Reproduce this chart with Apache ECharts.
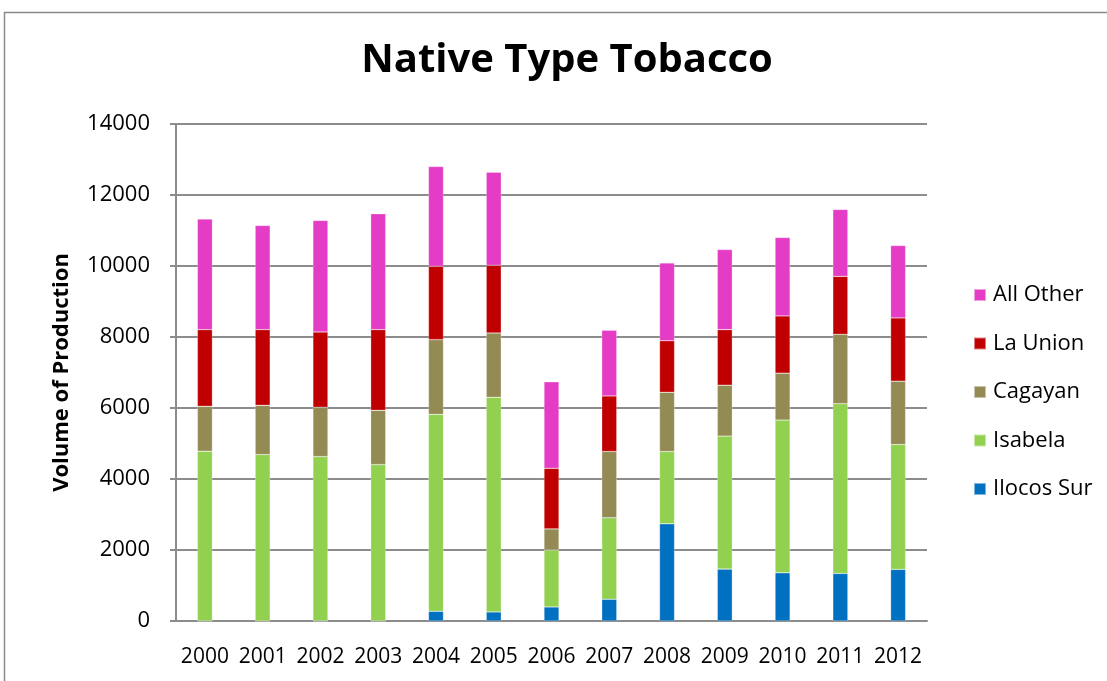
<!DOCTYPE html>
<html>
<head>
<meta charset="utf-8">
<script src="https://cdn.jsdelivr.net/npm/echarts@6/dist/echarts.min.js"></script>
<style>
  html, body { margin: 0; padding: 0; background: #fff; }
  #chart { width: 1107px; height: 681px; }
</style>
</head>
<body>
<div id="chart"></div>
<script>
// Native type tobacco production by province, 2000-2012
const years = ['2000', '2001', '2002', '2003', '2004', '2005', '2006', '2007', '2008', '2009', '2010', '2011', '2012'];
const ilocosSur = [0, 0, 0, 0, 274, 255, 396, 613, 2736, 1462, 1358, 1340, 1453];
const isabela   = [4783, 4689, 4632, 4406, 5547, 6047, 1604, 2293, 2038, 3746, 4302, 4783, 3519];
const cagayan   = [1264, 1386, 1387, 1528, 2104, 1811, 594, 1868, 1669, 1434, 1321, 1952, 1783];
const laUnion   = [2161, 2133, 2123, 2274, 2066, 1906, 1708, 1566, 1453, 1566, 1613, 1633, 1783];
const allOther  = [3113, 2934, 3141, 3264, 2811, 2623, 2434, 1849, 2189, 2254, 2208, 1886, 2037];

const seriesDefs = [
  { name: 'Ilocos Sur', data: ilocosSur, color: '#0070C0' },
  { name: 'Isabela',    data: isabela,   color: '#92D050' },
  { name: 'Cagayan',    data: cagayan,   color: '#948A54' },
  { name: 'La Union',   data: laUnion,   color: '#C00000' },
  { name: 'All Other',  data: allOther,  color: '#E43CC4' }
];

const font = '"Open Sans", "Noto Sans", sans-serif';
const chart = echarts.init(document.getElementById('chart'), null, { renderer: 'canvas' });

chart.setOption({
  animation: false,
  backgroundColor: '#fff',
  graphic: [{
    type: 'rect',
    shape: { x: 4.5, y: 12.5, width: 1110, height: 700 },
    style: { fill: 'none', stroke: '#8a8a8a', lineWidth: 1.5 },
    silent: true
  }],
  title: {
    text: 'Native Type Tobacco',
    left: 562, top: 36, textAlign: 'center',
    textStyle: { fontFamily: font, fontWeight: 'bold', fontSize: 40, color: '#000' }
  },
  legend: {
    orient: 'vertical',
    left: 968, top: 279,
    itemWidth: 12, itemHeight: 12, itemGap: 26.5,
    icon: 'rect',
    data: ['All Other', 'La Union', 'Cagayan', 'Isabela', 'Ilocos Sur'],
    textStyle: { fontFamily: font, fontSize: 22, lineHeight: 22, color: '#000', padding: [0, 0, 0, 2] }
  },
  grid: { left: 176, right: 180, top: 124, bottom: 60, containLabel: false },
  xAxis: {
    type: 'category',
    data: years,
    axisLine: { lineStyle: { color: '#8c8c8c', width: 2 } },
    axisTick: { show: false },
    axisLabel: { interval: 0, hideOverlap: false, fontFamily: font, fontSize: 21, color: '#000', margin: 26 }
  },
  yAxis: {
    type: 'value',
    min: 0, max: 14000, interval: 2000,
    name: 'Volume of Production',
    nameLocation: 'middle',
    nameGap: 103,
    nameTextStyle: { fontFamily: font, fontWeight: 'bold', fontSize: 22, color: '#000' },
    axisLine: { show: true, lineStyle: { color: '#8c8c8c', width: 2 } },
    axisTick: { show: true, length: 6, lineStyle: { color: '#8c8c8c', width: 2 } },
    splitLine: { lineStyle: { color: '#8c8c8c', width: 2 } },
    axisLabel: { fontFamily: font, fontSize: 22, color: '#000', margin: 26, formatter: v => String(v) }
  },
  series: seriesDefs.map(s => ({
    name: s.name,
    type: 'bar',
    stack: 'total',
    barWidth: 15,
    data: s.data,
    itemStyle: { color: s.color, borderColor: 'rgba(255,255,255,0.5)', borderWidth: 0.5 }
  }))
});
</script>
</body>
</html>
